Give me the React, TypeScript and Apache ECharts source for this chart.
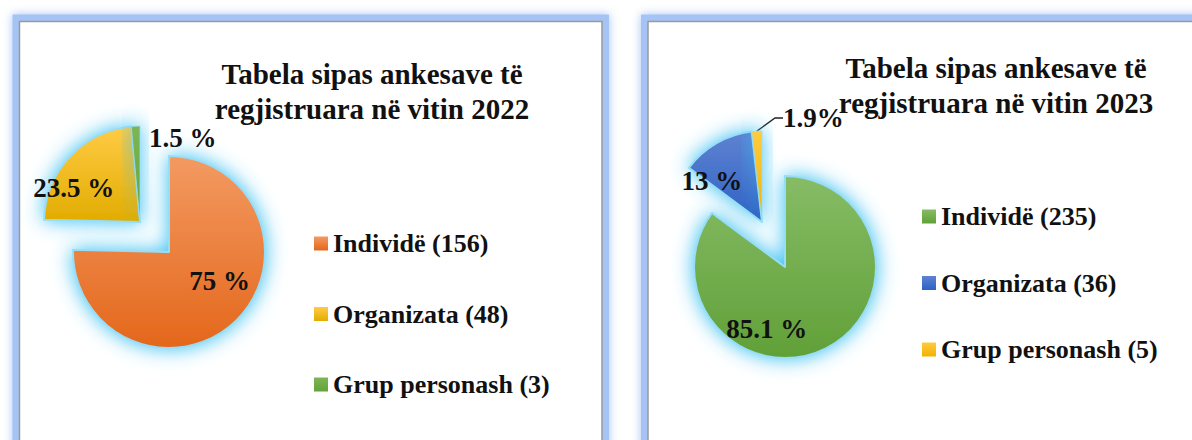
import { useEffect, useRef } from "react";
import * as echarts from "echarts";

// ---------- data ----------
const categories = ["Individë", "Organizata", "Grup personash"];
const values2022 = [156, 48, 3];
const values2023 = [235, 36, 5];
const percentLabels2022 = ["75 %", "23.5 %", "1.5 %"];
const percentLabels2023 = ["85.1 %", "13 %", "1.9%"];
const title2022 = "Tabela sipas ankesave të\nregjistruara në vitin 2022";
const title2023 = "Tabela sipas ankesave të\nregjistruara në vitin 2023";

// ---------- styles ----------
const FONT = "Liberation Serif";
const GLOW = "rgba(55,192,242,1)";
const RING = "rgba(150,222,248,1)";
const palette2022 = [
  ["#F39A62", "#E4671B"],
  ["#FFCB45", "#E2AC00"],
  ["#7DB655", "#62A338"],
];
const palette2023 = [
  ["#86BC66", "#61A038"],
  ["#5F82D2", "#2E62C4"],
  ["#FFCB40", "#F0B300"],
];

const grad = (c: string[]) =>
  new echarts.graphic.LinearGradient(0, 0, 0, 1, [
    { offset: 0, color: c[0] },
    { offset: 1, color: c[1] },
  ]);

function pieSeries(
  values: number[],
  names: string[],
  palette: string[][],
  labels: string[],
  center: number[],
  radius: number,
  visible: number[],
  layouts: Record<number, any>,
  thin: number[] = [],
  outsideIdx: number[] = []
) {
  return {
    type: "pie",
    center,
    radius: radius + 1,
    startAngle: 90,
    clockwise: true,
    avoidLabelOverlap: false,
    silent: true,
    emphasis: { disabled: true },
    label: {
      show: true,
      position: "inside",
      fontFamily: FONT,
      fontWeight: "bold",
      fontSize: 27,
      color: "#111",
      formatter: (p: any) => labels[p.dataIndex],
    },
    labelLine: { show: false },
    labelLayout: (p: any) => layouts[p.dataIndex] || {},
    data: values.map((v, i) =>
      visible.includes(i)
        ? {
            value: v,
            name: names[i],
            itemStyle: {
              color: grad(palette[i]),
              borderColor: RING,
              borderWidth: thin.includes(i) ? 0.8 : 2,
              shadowBlur: 20,
              shadowColor: GLOW,
            },
            ...(outsideIdx.includes(i)
              ? {
                  label: { position: "outside" },
                  labelLine: {
                    show: true,
                    length: 6,
                    length2: 8,
                    smooth: false,
                    lineStyle: { color: "#222", width: 1.3, shadowBlur: 0 },
                  },
                }
              : {}),
          }
        : {
            value: v,
            name: "",
            itemStyle: { color: "transparent", borderWidth: 0, shadowBlur: 0 },
            label: { show: false },
          }
    ),
  };
}

const names2022 = categories.map((c, i) => `${c} (${values2022[i]})`);
const names2023 = categories.map((c, i) => `${c} (${values2023[i]})`);

function panel(x: number, y: number, w: number, h: number) {
  return [
    {
      type: "rect",
      shape: { x: x - 7, y: y - 7, width: w + 14, height: h + 14 },
      style: { fill: "#a5c3f5", shadowBlur: 10, shadowColor: "#a5c3f5" },
      silent: true,
    },
    {
      type: "rect",
      shape: { x, y, width: w, height: h },
      style: { fill: "#ffffff", stroke: "#9a9a9a", lineWidth: 1.5 },
      silent: true,
    },
  ];
}

const legendBase = {
  orient: "vertical",
  itemWidth: 14,
  itemHeight: 14,
  icon: "rect",
  selectedMode: false,
  itemStyle: { shadowBlur: 0, shadowColor: "transparent", borderWidth: 0 },
  textStyle: { fontFamily: FONT, fontWeight: "bold", fontSize: 26, color: "#111", lineHeight: 28 },
};

export default function App() {
  const ref = useRef<HTMLDivElement>(null);
  useEffect(() => {
    const chart = echarts.init(ref.current!, null, { renderer: "svg" });
    const option: any = {
      animation: false,
      backgroundColor: "#ffffff",
      textStyle: { fontFamily: FONT },
      graphic: [
        ...panel(19.5, 21.5, 582.5, 460),
        ...panel(648, 21.5, 600, 460),
        {
          type: "text",
          x: 372,
          y: 91,
          style: {
            text: title2022,
            font: `bold 29px ${FONT}`,
            fill: "#111",
            align: "center",
            verticalAlign: "middle",
            lineHeight: 35,
          },
          silent: true,
        },
        {
          type: "text",
          x: 996,
          y: 85,
          style: {
            text: title2023,
            font: `bold 29px ${FONT}`,
            fill: "#111",
            align: "center",
            verticalAlign: "middle",
            lineHeight: 35,
          },
          silent: true,
        },
      ],
      legend: [
        { ...legendBase, left: 309, top: 224.5, itemGap: 42.5, data: names2022 },
        { ...legendBase, left: 917, top: 197.5, itemGap: 38.5, data: names2023 },
      ],
      series: [
        pieSeries(values2022, names2022, palette2022, percentLabels2022, [169, 252], 95, [0], {
          0: { dx: 15, dy: -7 },
        }),
        pieSeries(
          values2022,
          names2022,
          palette2022,
          percentLabels2022,
          [140, 222],
          95,
          [1, 2],
          {
            1: { dx: -29, dy: 1 },
            2: { dx: 45, dy: -33 },
          },
          [2]
        ),
        pieSeries(values2023, names2023, palette2023, percentLabels2023, [785, 267], 90, [0], {
          0: { dx: -40, dy: 19 },
        }),
        pieSeries(
          values2023,
          names2023,
          palette2023,
          percentLabels2023,
          [762, 222],
          90,
          [1, 2],
          {
            1: { dx: -26, dy: 1 },
            2: { x: 783, y: 118, align: "left", verticalAlign: "middle" },
          },
          [2],
          [2]
        ),
      ],
    };
    chart.setOption(option);
    return () => chart.dispose();
  }, []);
  return (
    <div
      ref={ref}
      style={{ position: "absolute", left: 0, top: 0, width: 1192, height: 440, background: "#fff" }}
    />
  );
}
